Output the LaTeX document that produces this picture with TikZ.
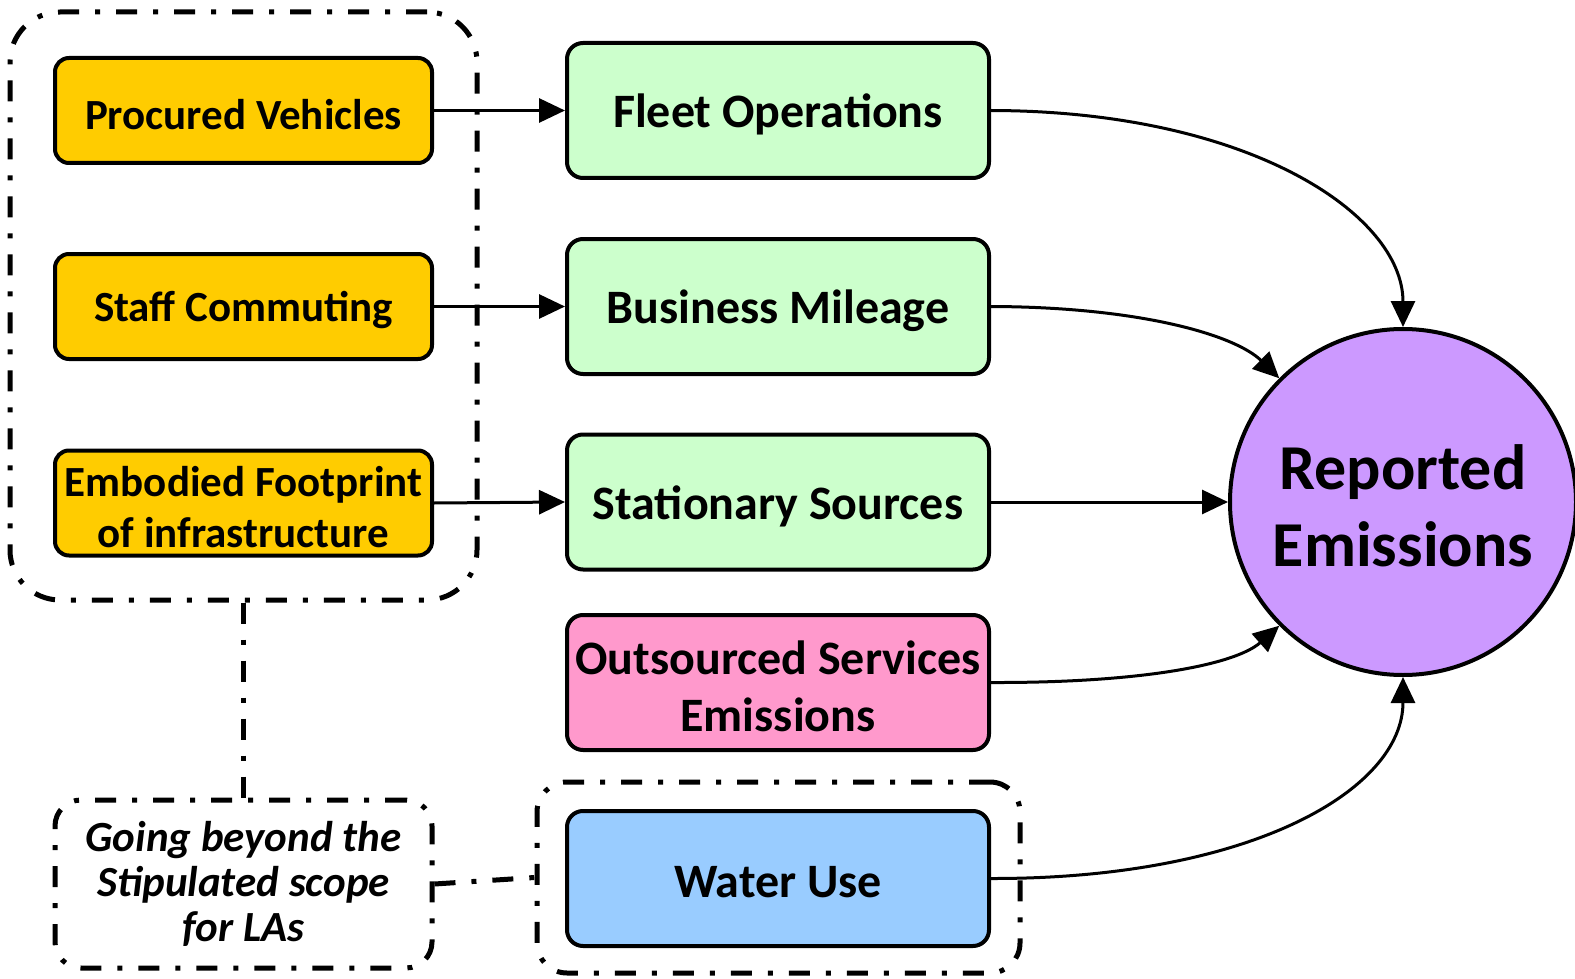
\documentclass[tikz,border=0pt]{standalone}
\usepackage{fontspec}
\setmainfont{Carlito}
\usetikzlibrary{arrows.meta,shapes.geometric}
\definecolor{orangefill}{RGB}{255,204,0}
\definecolor{greenfill}{RGB}{204,255,204}
\definecolor{pinkfill}{RGB}{255,153,204}
\definecolor{bluefill}{RGB}{153,204,255}
\definecolor{purplefill}{RGB}{204,153,255}
\newcommand\txtdown[1]{\raisebox{-4pt}[\height][\depth]{#1}}
\tikzset{
  orangebox/.style={draw, line width=4pt, rounded corners=14pt, fill=orangefill, minimum width=377pt, minimum height=105pt, inner sep=0pt, align=center, font=\bfseries\fontsize{43}{51}\selectfont},
  srcbox/.style={draw, line width=4pt, rounded corners=16pt, minimum width=422pt, minimum height=135pt, inner sep=0pt, align=center, font=\bfseries\fontsize{48}{57}\selectfont},
  dashdot/.style={draw, line width=5pt, dash pattern=on 21pt off 16pt on 5pt off 16pt, inner sep=0pt},
  flow/.style={line width=3pt, -{Triangle[length=26pt,width=24pt]}},
}
\begin{document}
\begin{tikzpicture}[x=1pt,y=-1pt]
\useasboundingbox (0,0) rectangle (1575,979);
% dashed groups
\node[dashdot, rounded corners=50pt, minimum width=467pt, minimum height=588pt] (scopebox) at (243.5,306) {};
\node[dashdot, rounded corners=30pt, minimum width=483pt, minimum height=191pt] (waterscope) at (778.5,877.5) {};
\node[dashdot, rounded corners=26pt, minimum width=377pt, minimum height=168pt, align=center, font=\bfseries\itshape\fontsize{43}{45}\selectfont] (going) at (243.5,884) {Going beyond the\\Stipulated scope\\for LAs};
% orange
\node[orangebox] (procured) at (243.5,110.5) {\txtdown{Procured Vehicles}};
\node[orangebox] (staff) at (243.5,306.5) {\txtdown{Staff Commuting}};
\node[orangebox] (embodied) at (243.5,503) {\txtdown{Embodied Footprint}\\\txtdown{of infrastructure}};
% sources
\node[srcbox, fill=greenfill] (fleet) at (778,110.5) {\txtdown{Fleet Operations}};
\node[srcbox, fill=greenfill] (business) at (778,306.5) {\txtdown{Business Mileage}};
\node[srcbox, fill=greenfill] (stationary) at (778,502) {\txtdown{Stationary Sources}};
\node[srcbox, fill=pinkfill] (outsourced) at (778,682.5) {\txtdown{Outsourced Services}\\\txtdown{Emissions}};
\node[srcbox, fill=bluefill] (water) at (778,878.5) {\txtdown{Water Use}};
% reported
\node[circle, draw, line width=4pt, fill=purplefill, minimum size=346pt, inner sep=0pt, align=center, font=\bfseries\fontsize{64}{77}\selectfont] (reported) at (1403,502) {\txtdown{Reported}\\\txtdown{Emissions}};
% connectors
\draw[dashdot] (scopebox.south) -- (going.north);
\draw[dashdot] (going.east) -- (waterscope.west);
\draw[flow] (procured.east) -- (fleet.west);
\draw[flow] (staff.east) -- (business.west);
\draw[flow] (embodied.east) -- (stationary.west);
\draw[flow] (fleet.east) .. controls (1250,111) and (1403,215) .. (reported.north);
\draw[flow] (business.east) .. controls (1140,307) and (1235,335) .. (reported.north west);
\draw[flow] (stationary.east) -- (reported.west);
\draw[flow] (outsourced.east) .. controls (1140,683) and (1235,665) .. (reported.south west);
\draw[flow] (water.east) .. controls (1250,879) and (1403,790) .. (reported.south);
\end{tikzpicture}
\end{document}
